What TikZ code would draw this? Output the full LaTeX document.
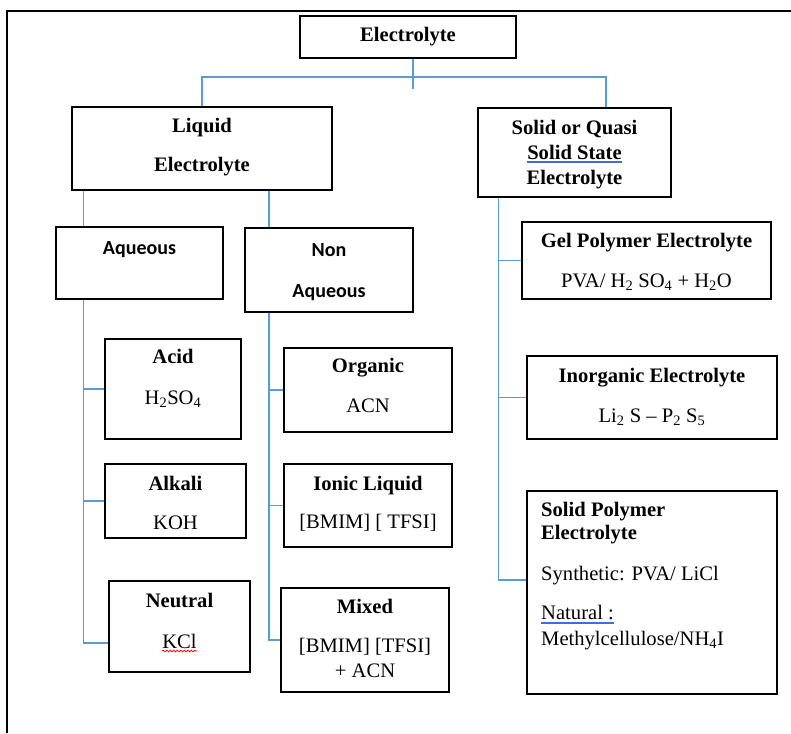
\documentclass[tikz,border=0pt]{standalone}
\usepackage{fontspec}
\setmainfont{Liberation Serif}
\newfontfamily\calibfont{Carlito}
\usetikzlibrary{backgrounds,decorations.pathmorphing}
\definecolor{linkblue}{RGB}{91,155,213}
\definecolor{spellblue}{RGB}{60,110,220}

\tikzset{
  box/.style={draw, fill=white, line width=1.3pt, inner sep=0pt},
  head/.style={font=\fontsize{20.6}{24}\selectfont\bfseries, inner sep=0pt, anchor=base},
  txt/.style={font=\fontsize{20.6}{24}\selectfont, inner sep=0pt, anchor=base},
  sans/.style={font=\fontsize{20}{24}\selectfont\calibfont\bfseries, inner sep=0pt, anchor=base},
  link/.style={draw=linkblue, line width=1.5pt},
  spell/.style={draw=spellblue, line width=1.5pt},
}

\begin{document}
\begin{tikzpicture}[x=1pt, y=-1pt]
  \useasboundingbox (0,0) rectangle (791,733);
  \draw[line width=1.5pt] (791,11) -- (7,11) -- (7,733);

  % boxes
  \node[box, minimum width=216pt, minimum height=42pt]  (top)     at (408,37)    {};
  \node[box, minimum width=260pt, minimum height=83pt]  (liquid)  at (202,148.5) {};
  \node[box, minimum width=193pt, minimum height=89pt]  (solid)   at (574.5,152.5) {};
  \node[box, minimum width=167pt, minimum height=72pt]  (aq)      at (139.5,263) {};
  \node[box, minimum width=168pt, minimum height=84pt]  (naq)     at (329,270)   {};
  \node[box, minimum width=136pt, minimum height=100pt] (acid)    at (173,389)   {};
  \node[box, minimum width=141pt, minimum height=74pt]  (alkali)  at (175.5,501) {};
  \node[box, minimum width=141pt, minimum height=91pt]  (neutral) at (179.5,626.5) {};
  \node[box, minimum width=168pt, minimum height=84pt]  (organic) at (368,390)   {};
  \node[box, minimum width=168pt, minimum height=83pt]  (ionic)   at (368,505.5) {};
  \node[box, minimum width=168pt, minimum height=104pt] (mixed)   at (365,640)   {};
  \node[box, minimum width=249pt, minimum height=77pt]  (gel)     at (646.5,260.5) {};
  \node[box, minimum width=250pt, minimum height=83pt]  (inorg)   at (652,397.5) {};
  \node[box, minimum width=250pt, minimum height=203pt] (spe)     at (652,592.5) {};

  % texts
  \node[head] (topA) at (408,42) {Electrolyte};
  \node[head] (liquidA) at (202,132) {Liquid};
  \node[head] (liquidB) at (202,171) {Electrolyte};
  \node[head] (solidA) at (574.5,134) {Solid or Quasi};
  \node[head] (solidB) at (574.5,159) {Solid State};
  \node[head] (solidC) at (574.5,184) {Electrolyte};
  \node[sans] (aqA) at (139.5,254) {Aqueous};
  \node[sans] (naqA) at (329,256) {Non};
  \node[sans] (naqB) at (329,297) {Aqueous};
  \node[head] (acidA) at (173,363) {Acid};
  \node[txt]  (acidB) at (173,404) {H\textsubscript{2}SO\textsubscript{4}};
  \node[head] (alkaliA) at (175.5,490) {Alkali};
  \node[txt]  (alkaliB) at (175.5,529) {KOH};
  \node[head] (neutralA) at (179.5,607) {Neutral};
  \node[txt]  (neutralB) at (179.5,648) {KCl};
  \node[head] (organicA) at (368,372) {Organic};
  \node[txt]  (organicB) at (368,412) {ACN};
  \node[head] (ionicA) at (368,490) {Ionic Liquid};
  \node[txt]  (ionicB) at (368,528) {[BMIM] [ TFSI]};
  \node[head] (mixedA) at (365,613) {Mixed};
  \node[txt]  (mixedB) at (365,652) {[BMIM] [TFSI]};
  \node[txt]  (mixedC) at (365,677) {+ ACN};
  \node[head] (gelA) at (646.5,247) {Gel Polymer Electrolyte};
  \node[txt]  (gelB) at (646.5,287) {PVA/ H\textsubscript{2} SO\textsubscript{4} + H\textsubscript{2}O};
  \node[head] (inorgA) at (652,382) {Inorganic Electrolyte};
  \node[txt]  (inorgB) at (652,422) {Li\textsubscript{2} S -- P\textsubscript{2} S\textsubscript{5}};
  \node[head, anchor=base west] (speA) at (541,516) {Solid Polymer};
  \node[head, anchor=base west] (speB) at (541,539) {Electrolyte};
  \node[txt, anchor=base west]  (speC) at (541,580) {Synthetic: PVA/ LiCl};
  \node[txt, anchor=base west]  (speD) at (541,619) {Natural :};
  \node[txt, anchor=base west]  (speE) at (541,645) {Methylcellulose/NH\textsubscript{4}I};

  % spell marks
  \draw[spell] ([yshift=-3pt]solidB.base west) -- ([yshift=-3pt]solidB.base east);
  \draw[spell] ([yshift=-4pt]speD.base west) -- ([yshift=-4pt]speD.base east);
  \draw[red, line width=.8pt, decorate, decoration={snake, amplitude=.9pt, segment length=3.5pt}]
    ([yshift=-3pt]neutralB.base west) -- ([yshift=-3pt]neutralB.base east);

  % connectors
  \coordinate (bus) at (413,77);
  \coordinate (stub) at (413,89);
  \coordinate (aqL) at ([xshift=12.3pt]liquid.south west);
  \coordinate (naqL) at ([xshift=67pt]liquid.south);
  \coordinate (solL) at ([xshift=21pt]solid.south west);
  \begin{scope}[on background layer]
    \draw[link] (top.south -| stub) -- (stub);
    \draw[link] (liquid.north) |- (bus) -| ([xshift=31.5pt]solid.north);
    \draw[link] (aqL) |- ([yshift=-16.5pt]neutral.west);
    \draw[link] (aqL |- acid.west) -- (acid.west);
    \draw[link] (aqL |- alkali.west) -- (alkali.west);
    \draw[link] (naqL) |- (mixed.west);
    \draw[link] (naqL |- organic.west) -- (organic.west);
    \draw[link] (naqL |- ionic.west) -- (ionic.west);
    \draw[link] (solL) |- ([yshift=12.5pt]spe.west);
    \draw[link] (solL |- gel.west) -- (gel.west);
    \draw[link] (solL |- inorg.west) -- (inorg.west);
  \end{scope}
\end{tikzpicture}
\end{document}
